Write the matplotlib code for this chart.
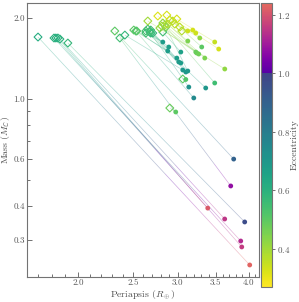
import numpy as np
import matplotlib
matplotlib.use("Agg")
import matplotlib.pyplot as plt
from matplotlib.colors import ListedColormap, Normalize
from matplotlib.collections import LineCollection
from matplotlib.cm import ScalarMappable
from matplotlib.ticker import FixedLocator, NullFormatter

plt.rcParams['font.family'] = 'serif'
plt.rcParams['font.serif'] = ['cmr10', 'DejaVu Serif']
plt.rcParams['mathtext.fontset'] = 'cm'
plt.rcParams['axes.formatter.use_mathtext'] = True

# initial state (diamonds)
peri0 = [1.701, 1.815, 1.844, 1.859, 1.829, 1.920, 2.323, 2.371,
         2.635, 2.688, 2.509, 2.823, 2.540, 2.710, 2.688, 2.420, 2.656, 2.857,
         3.061, 2.678, 2.635, 2.823, 2.530, 2.904,
         2.766, 2.904, 2.939, 2.789, 2.811, 2.846, 2.880, 2.988, 2.869, 2.656,
         2.963, 3.049, 3.024]
mass0 = [1.700, 1.686, 1.686, 1.671, 1.686, 1.615, 1.790, 1.686,
         1.759, 1.759, 1.805, 1.774, 1.790, 1.759, 1.805, 1.729, 1.821, 1.852,
         1.187, 1.774, 1.790, 1.917, 1.790, 0.926,
         2.035, 1.967, 1.950, 1.836, 1.868, 1.884, 1.900, 1.984, 2.052, 1.950,
         1.900, 1.790, 1.852]
ecc0 = [0.62, 0.60, 0.60, 0.60, 0.61, 0.58, 0.50, 0.55,
        0.55, 0.58, 0.50, 0.55, 0.50, 0.58, 0.55, 0.58, 0.56, 0.46,
        0.50, 0.56, 0.54, 0.42, 0.52, 0.48,
        0.32, 0.35, 0.36, 0.42, 0.40, 0.40, 0.38, 0.33, 0.33, 0.40,
        0.36, 0.38, 0.36]

# final state (circles)
peri1 = [4.017, 3.873, 3.889, 3.629, 3.388, 3.936, 3.764, 3.719,
         2.823, 2.892, 2.880, 3.037, 2.988, 3.012, 3.037, 3.061, 3.099, 3.124,
         3.099, 3.137, 3.360, 3.485, 3.201, 2.975,
         3.124, 3.280, 3.306, 3.227, 3.240, 3.266, 3.347, 3.485, 3.542, 3.630,
         3.124, 3.188, 3.227]
mass1 = [0.2415, 0.2965, 0.2818, 0.358, 0.393, 0.349, 0.598, 0.475,
         1.629, 1.561, 1.508, 1.495, 1.420, 1.373, 1.361, 1.282, 1.260, 1.271,
         1.182, 1.108, 1.099, 1.147, 1.009, 0.895,
         1.643, 1.686, 1.561, 1.495, 1.483, 1.470, 1.420, 1.629, 1.534, 1.293,
         1.790, 1.805, 1.759]
ecc1 = [1.23, 1.13, 1.16, 1.15, 1.21, 0.97, 0.90, 1.08,
        0.68, 0.67, 0.68, 0.66, 0.68, 0.69, 0.68, 0.70, 0.70, 0.70,
        0.52, 0.72, 0.70, 0.55, 0.75, 0.50,
        0.45, 0.42, 0.50, 0.48, 0.48, 0.47, 0.45, 0.35, 0.33, 0.42,
        0.34, 0.33, 0.34]

vmin, vmax = 0.27, 1.24

# viridis (reversed) below e=1, plasma above
vals = np.linspace(vmin, vmax, 512)
vir = plt.get_cmap('viridis')
pla = plt.get_cmap('plasma')
cols = []
for v in vals:
    if v < 1.0:
        cols.append(vir(1 - (v - vmin) / (1.0 - vmin) * 0.8))
    else:
        cols.append(pla(0.15 + (v - 1.0) / (vmax - 1.0) * 0.47))
cmap = ListedColormap(cols)
norm = Normalize(vmin, vmax)

fig = plt.figure(figsize=(2.99, 3.02), dpi=100)
ax = fig.add_axes([0.090, 0.083, 0.776, 0.907])
cax = fig.add_axes([0.874, 0.050, 0.036, 0.940])

# gradient connecting lines
segs = []
seg_e = []
n = 20
for i in range(len(peri0)):
    lx = np.logspace(np.log10(peri0[i]), np.log10(peri1[i]), n + 1)
    ly = np.logspace(np.log10(mass0[i]), np.log10(mass1[i]), n + 1)
    ee = np.linspace(ecc0[i], ecc1[i], n)
    for k in range(n):
        segs.append([(lx[k], ly[k]), (lx[k + 1], ly[k + 1])])
        seg_e.append(ee[k])
lc = LineCollection(segs, colors=cmap(norm(np.array(seg_e))), linewidths=0.5, alpha=0.35, zorder=1)
ax.add_collection(lc)

ax.scatter(peri0, mass0, marker='D', s=16, facecolors='none',
           edgecolors=cmap(norm(np.array(ecc0))), linewidths=0.8, zorder=2)
ax.scatter(peri1, mass1, marker='o', s=12, c=ecc1, cmap=cmap, norm=norm,
           edgecolors='none', zorder=3)

ax.set_xscale('log')
ax.set_yscale('log')
ax.set_xlim(1.626, 4.17)
ax.set_ylim(0.218, 2.275)

ax.xaxis.set_major_locator(FixedLocator([2.0, 2.5, 3.0, 3.5, 4.0]))
ax.set_xticklabels(['2.0', '2.5', '3.0', '3.5', '4.0'])
ax.xaxis.set_minor_locator(FixedLocator(np.arange(1.7, 4.15, 0.1)))
ax.xaxis.set_minor_formatter(NullFormatter())
ax.yaxis.set_major_locator(FixedLocator([0.3, 0.4, 0.6, 1.0, 2.0]))
ax.set_yticklabels(['0.3', '0.4', '0.6', '1.0', '2.0'])
ax.yaxis.set_minor_locator(FixedLocator([0.5, 0.7, 0.8, 0.9]))
ax.yaxis.set_minor_formatter(NullFormatter())

ax.tick_params(which='both', direction='in', labelsize=6.5, colors='0.35', width=0.6, pad=1.5)
ax.tick_params(which='major', length=3.5)
ax.tick_params(which='minor', length=2)
for sp in ax.spines.values():
    sp.set_color('0.45')
    sp.set_linewidth(0.8)

ax.set_xlabel(r'Periapsis ($R_\oplus$)', fontsize=7, color='0.3', labelpad=1)
ax.set_ylabel(r'Mass ($M_{\mathbb{C}}$)', fontsize=7, color='0.3', labelpad=1)

cb = fig.colorbar(ScalarMappable(norm=norm, cmap=cmap), cax=cax)
cb.set_ticks([0.4, 0.6, 0.8, 1.0, 1.2])
cb.ax.tick_params(labelsize=6.5, colors='0.35', width=0.6, length=2.5, pad=1.2)
cb.outline.set_edgecolor('0.45')
cb.outline.set_linewidth(0.8)
cb.set_label('Eccentricity', fontsize=7, color='0.3', labelpad=0)

fig.savefig('out.png', dpi=100)
